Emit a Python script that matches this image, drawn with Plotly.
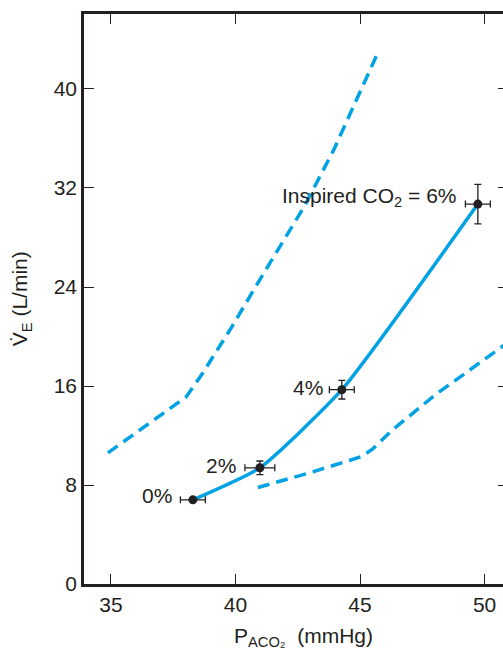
import plotly.graph_objects as go

# Measured points (inspired CO2 0,2,4,6%)
pts_x = [38.29, 40.98, 44.27, 49.73]
pts_y = [6.8, 9.39, 15.7, 30.7]
err_x = [0.5, 0.6, 0.5, 0.5]
err_y = [0.0, 0.55, 0.75, 1.6]
pt_labels = ["0%", "2%", "4%", "Inspired CO<sub>2</sub> = 6%"]
label_x = [37.52, 40.12, 43.58, 48.98]
label_y = [7.19, 9.6, 15.84, 31.27]

# Upper dashed curve
up_x = [34.88, 38.01, 38.64, 39.83, 40.98, 42.76, 43.95, 45.73]
up_y = [10.6, 15.1, 16.9, 20.7, 24.6, 30.5, 35.1, 43.0]

# Lower dashed curve
lo_x = [40.90, 43.0, 44.6, 45.06, 45.5, 46.33, 48.03, 50.52, 51.2]
lo_y = [7.8, 9.0, 10.0, 10.3, 10.9, 12.5, 15.3, 18.9, 19.9]

x_ticks = [35, 40, 45, 50]
y_ticks = [0, 8, 16, 24, 32, 40]

BLUE = "#00a2e3"
INK = "#231f20"
FONT = "Liberation Sans, Arial, sans-serif"

fig = go.Figure()
fig.add_trace(go.Scatter(x=up_x, y=up_y, mode="lines",
                         line=dict(color=BLUE, width=3.5, dash="12px,7px"),
                         hoverinfo="skip", showlegend=False))
fig.add_trace(go.Scatter(x=lo_x, y=lo_y, mode="lines",
                         line=dict(color=BLUE, width=3.5, dash="12px,7px"),
                         hoverinfo="skip", showlegend=False))
fig.add_trace(go.Scatter(x=pts_x, y=pts_y, mode="lines",
                         line=dict(color=BLUE, width=3.5, shape="spline", smoothing=0.5),
                         hoverinfo="skip", showlegend=False))
fig.add_trace(go.Scatter(x=pts_x, y=pts_y, mode="markers",
                         marker=dict(color=INK, size=9),
                         error_x=dict(type="data", array=err_x, color=INK, thickness=1.3, width=3.5),
                         error_y=dict(type="data", array=err_y, color=INK, thickness=1.3, width=3.5),
                         showlegend=False))

for t, lx, ly in zip(pt_labels, label_x, label_y):
    fig.add_annotation(x=lx, y=ly, text=t, showarrow=False, xanchor="right", yanchor="middle",
                       font=dict(size=21, color=INK, family=FONT))

fig.add_annotation(xref="paper", yref="paper", x=-0.148, y=0.5, text="V\u0307<sub>E</sub> (L/min)",
                   textangle=-90, showarrow=False, xanchor="center", yanchor="middle",
                   font=dict(size=21, color=INK, family=FONT))
fig.add_annotation(xref="paper", yref="paper", x=0.5176, y=-0.066, text="P<sub>ACO\u2082</sub>  (mmHg)",
                   showarrow=False, xanchor="center", yanchor="top",
                   font=dict(size=21, color=INK, family=FONT))

fig.update_layout(
    width=511, height=653,
    margin=dict(l=84, r=0, t=14, b=69),
    paper_bgcolor="white", plot_bgcolor="white",
    font=dict(family=FONT, size=21, color=INK),
    xaxis=dict(range=[33.92, 50.94], tickvals=x_ticks, ticks="inside", ticklen=10, tickwidth=1.3,
               tickcolor=INK, showline=True, linecolor=INK, linewidth=2.5, mirror="ticks",
               showgrid=False, zeroline=False, tickfont=dict(size=21, color=INK)),
    yaxis=dict(range=[0, 46.06], tickvals=y_ticks, ticks="inside", ticklen=10, tickwidth=1.3,
               tickcolor=INK, showline=True, linecolor=INK, linewidth=2.5, mirror="ticks",
               showgrid=False, zeroline=False, tickfont=dict(size=21, color=INK)),
)

fig.write_html("out.html",
               config={"displayModeBar": False},
               post_script="document.body.style.margin='0px';"
                           "document.documentElement.style.overflow='hidden';"
                           "document.body.style.overflow='hidden';")
